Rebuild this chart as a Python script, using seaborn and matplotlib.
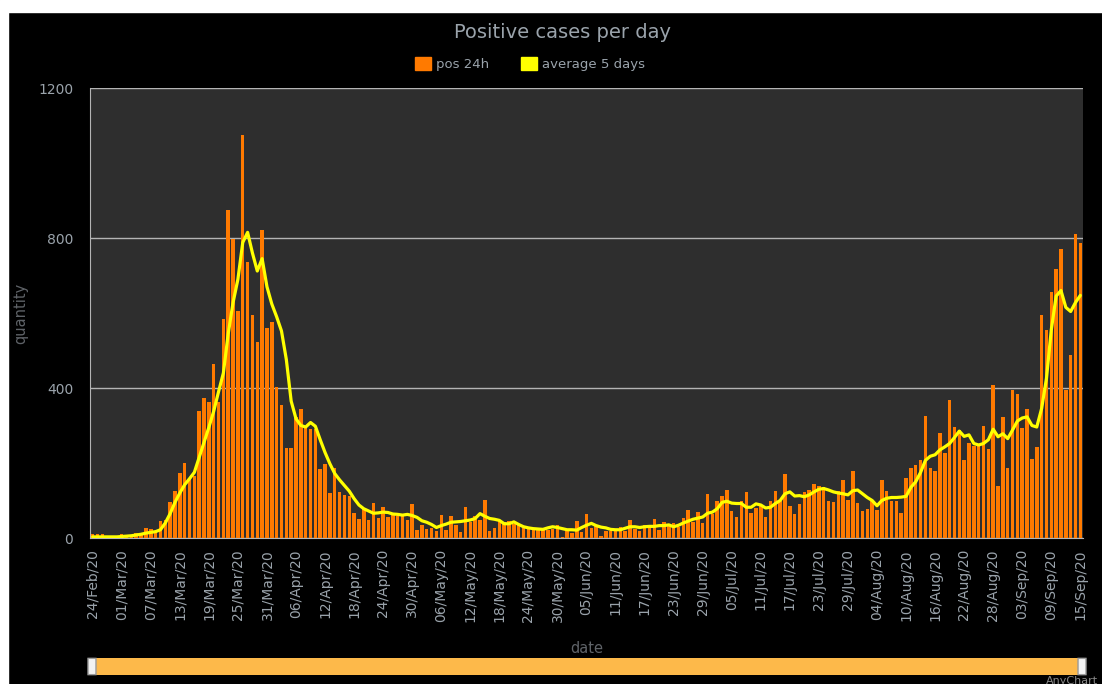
import matplotlib
matplotlib.use("Agg")
import matplotlib.pyplot as plt
import seaborn as sns
import numpy as np
import pandas as pd
from matplotlib.patches import Patch, Rectangle, FancyBboxPatch

# daily dates 24 Feb 2020 .. 15 Sep 2020
dates = pd.date_range("2020-02-24", "2020-09-15", freq="D")
date_labels = [d.strftime("%d/%b/%y") for d in dates]

# positive cases per day
pos_24h = [
    11, 11, 11, 0, 0, 0, 11, 7, 7, 14,
    7, 27, 25, 20, 45, 49, 97, 126, 174, 200,
    160, 165, 340, 373, 362, 463, 363, 585, 876, 797,
    606, 1076, 736, 594, 523, 822, 559, 577, 403, 355,
    241, 241, 324, 344, 295, 290, 292, 185, 198, 119,
    186, 124, 115, 111, 67, 51, 78, 49, 93, 54,
    83, 56, 65, 60, 58, 47, 90, 21, 34, 24,
    28, 20, 62, 22, 60, 36, 15, 84, 43, 58,
    49, 102, 18, 27, 46, 44, 46, 37, 37, 27,
    27, 22, 21, 21, 21, 24, 36, 4, 18, 13,
    46, 16, 64, 27, 33, 6, 18, 20, 20, 30,
    18, 47, 24, 18, 35, 35, 52, 21, 42, 36,
    41, 29, 53, 74, 42, 69, 40, 118, 64, 100,
    111, 128, 71, 56, 100, 123, 66, 80, 87, 56,
    100, 126, 100, 171, 85, 65, 91, 124, 129, 143,
    138, 135, 100, 95, 126, 155, 101, 180, 93, 71,
    78, 98, 74, 156, 126, 100, 98, 67, 160, 186,
    196, 209, 325, 188, 178, 280, 226, 369, 296, 287,
    209, 254, 245, 245, 298, 238, 409, 140, 322, 186,
    395, 384, 293, 345, 212, 243, 596, 556, 656, 717,
    772, 396, 487, 811, 788,
]

# 5 day average line
avg_5d = [
    3, 3, 3, 3, 3, 3, 4, 5, 6, 8,
    10, 13, 15, 17, 22, 40, 65, 95, 120, 142,
    158, 175, 215, 255, 295, 338, 390, 440, 545, 628,
    690, 788, 815, 760, 712, 745, 670, 624, 590, 552,
    476, 365, 318, 300, 296, 308, 298, 262, 228, 198,
    172, 155, 140, 125, 105, 88, 78, 72, 66, 67,
    69, 68, 64, 63, 61, 63, 60, 55, 46, 42,
    36, 28, 33, 37, 42, 43, 44, 46, 48, 52,
    65, 58, 52, 50, 47, 38, 38, 43, 36, 30,
    27, 25, 24, 23, 27, 30, 28, 25, 22, 22,
    21, 28, 34, 39, 33, 29, 27, 23, 22, 22,
    26, 30, 30, 28, 30, 31, 31, 33, 33, 35,
    30, 34, 40, 45, 50, 53, 56, 66, 69, 78,
    95, 98, 93, 92, 92, 82, 82, 91, 88, 80,
    82, 92, 100, 118, 123, 112, 113, 110, 115, 123,
    130, 132, 128, 123, 120, 118, 115, 126, 128, 118,
    108, 100, 86, 100, 106, 108, 108, 109, 111, 135,
    150, 175, 207, 218, 222, 235, 243, 252, 268, 285,
    271, 275, 252, 248, 252, 262, 290, 270, 278, 265,
    288, 312, 320, 323, 300, 296, 345, 425, 555, 645,
    660, 615, 604, 628, 647,
]

y_ticks = [0, 400, 800, 1200]

df = pd.DataFrame({"date": date_labels, "pos": pos_24h, "avg": avg_5d,
                   "idx": np.arange(len(date_labels))})

BAR = "#ff7a00"
LINE = "#ffff00"
TXT = "#9aa3ab"
AXT = "#5f6368"

sns.set_style("dark")
fig = plt.figure(figsize=(11.02, 6.84), dpi=100, facecolor="black")

# white frame strips of the screenshot
fig.patches.append(Rectangle((0, 0), 8 / 1102, 1, transform=fig.transFigure,
                             color="white", zorder=-1))
fig.patches.append(Rectangle((0, 1 - 12 / 684), 1, 12 / 684, transform=fig.transFigure,
                             color="white", zorder=-1))

ax = fig.add_axes([90 / 1102, 1 - 538 / 684, 993 / 1102, 450 / 684])
ax.set_facecolor("#2e2e2e")

sns.barplot(data=df, x="date", y="pos", color=BAR, width=0.72, linewidth=0,
            errorbar=None, saturation=1, ax=ax, zorder=3)
sns.lineplot(data=df, x="idx", y="avg", color=LINE, linewidth=2.3, ax=ax,
             zorder=4)

ax.set_xlim(-0.55, len(date_labels) - 0.45)
ax.set_ylim(0, 1200)
ax.set_yticks(y_ticks)
ax.set_yticklabels([str(v) for v in y_ticks], color=TXT, fontsize=10)
ax.yaxis.grid(True, color="#b4b4b4", linewidth=1, zorder=1)
ax.xaxis.grid(False)

major = list(range(0, len(date_labels), 6))
ax.set_xticks(major)
ax.set_xticklabels([date_labels[i] for i in major], rotation=90, color=TXT,
                   fontsize=10)
ax.set_xticks(np.arange(-0.5, len(date_labels), 3), minor=True)
ax.tick_params(axis="x", which="major", length=0, pad=8)
ax.tick_params(axis="x", which="minor", length=5, color="#b4b4b4", width=1)
ax.tick_params(axis="y", length=0, pad=12)

for side in ["top", "right"]:
    ax.spines[side].set_visible(False)
ax.spines["left"].set_color("#b4b4b4")
ax.spines["bottom"].set_color("#b4b4b4")

ax.set_xlabel("date", color=AXT, fontsize=10.5, labelpad=13)
ax.set_ylabel("quantity", color=AXT, fontsize=10.5, labelpad=7)

fig.text(562 / 1102, 1 - 32 / 684, "Positive cases per day", color=TXT,
         fontsize=14, ha="center", va="center")

handles = [Patch(facecolor=BAR, edgecolor=BAR), Patch(facecolor=LINE, edgecolor=LINE)]
fig.legend(handles, ["pos 24h", "average 5 days"], loc="center",
           bbox_to_anchor=(530 / 1102, 1 - 64 / 684), ncol=2, frameon=False,
           handlelength=1.2, handleheight=1.2, handletextpad=0.4,
           columnspacing=2.4, fontsize=9.5, labelcolor=TXT)

# range selector bar below the chart
sax = fig.add_axes([88 / 1102, 1 - 675 / 684, 998 / 1102, 17 / 684])
sax.set_facecolor("#fdb94a")
sax.set_xlim(0, 1)
sax.set_ylim(0, 1)
sax.set_xticks([])
sax.set_yticks([])
for s in sax.spines.values():
    s.set_visible(False)
for hx in (0.0, 0.992):
    sax.add_patch(FancyBboxPatch((hx, 0.02), 0.008, 0.96,
                                 boxstyle="round,pad=0,rounding_size=0.003",
                                 facecolor="#f2f2f2", edgecolor="#9a9a9a",
                                 linewidth=1, clip_on=False, zorder=5))

fig.text(1098 / 1102, 1 - 681 / 684, "AnyChart", color="#888888", fontsize=8,
         ha="right", va="center")

fig.savefig("out.png", dpi=100, facecolor=fig.get_facecolor())
